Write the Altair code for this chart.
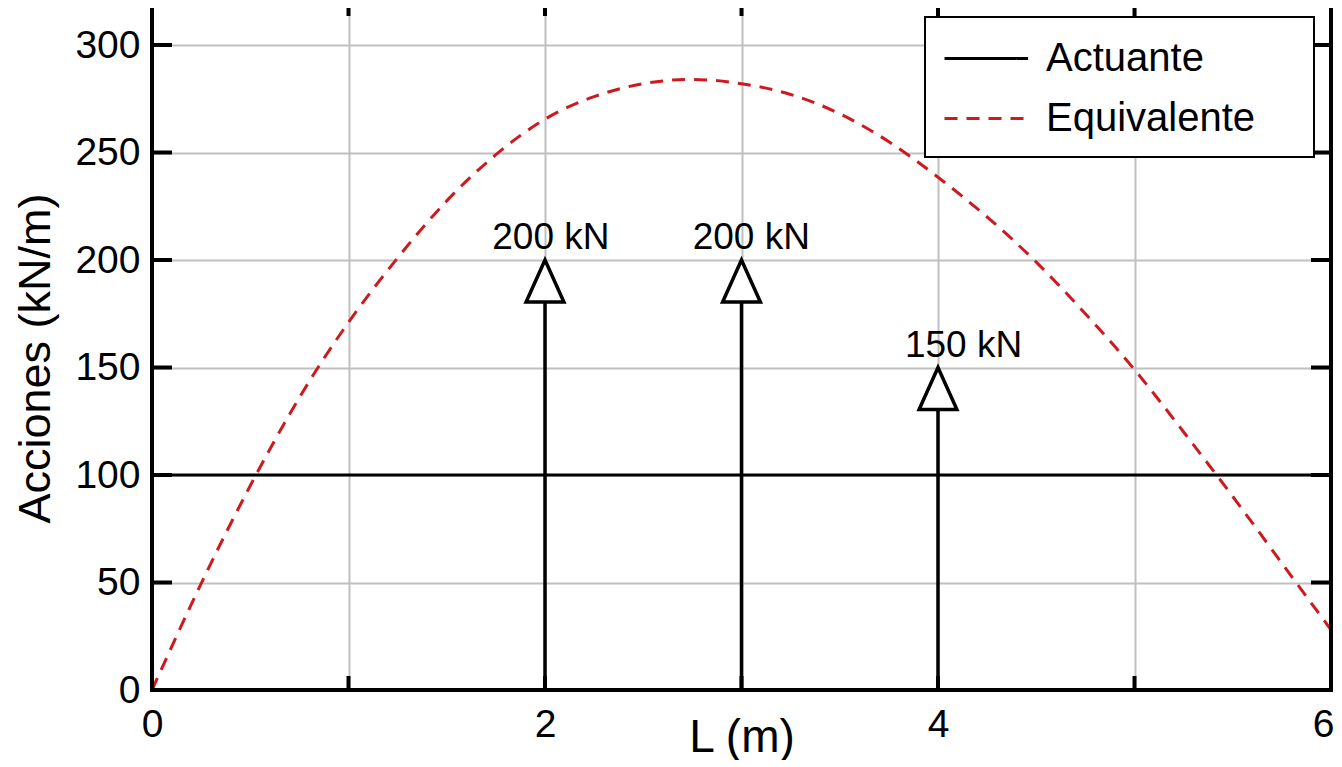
import altair as alt
import pandas as pd

# ---- data ----
x_equiv = [0, 0.25, 0.5, 0.75, 1.0, 1.25, 1.5, 1.75, 2.0, 2.25, 2.5, 2.75,
           3.0, 3.25, 3.5, 3.75, 4.0, 4.25, 4.5, 4.75, 5.0, 5.25, 5.5, 5.75, 6.0]
y_equiv = [0, 49.5, 95, 136, 171, 201, 227.5, 249, 265.5, 276, 282, 284,
           282, 277, 268, 255, 238.5, 220, 199, 175, 149, 120, 90, 59, 28]
x_act = [0, 6]
y_act = [100, 100]
load_x = [2, 3, 4]
load_val = [200, 200, 150]
load_label = ["200 kN", "200 kN", "150 kN"]
label_x = [2.03, 3.05, 4.13]
x_ticks = [0, 1, 2, 3, 4, 5, 6]
y_ticks = [0, 50, 100, 150, 200, 250, 300]
series = ["Actuante", "Equivalente"]

W, H = 1179, 688
FONT = "Liberation Sans"
RED = "#cc1a1f"
FILLER = "\u00a0\u2800"  # invisible, non-trimmed filler to widen the legend box

lines_df = pd.DataFrame({
    "L": x_act + x_equiv,
    "q": y_act + y_equiv,
    "serie": [series[0]] * len(x_act) + [series[1]] * len(x_equiv),
})
loads_df = pd.DataFrame({"L": load_x, "F": load_val, "txt": load_label, "LX": label_x})
xt_df = pd.DataFrame({"v": x_ticks})
yt_df = pd.DataFrame({"v": y_ticks})
one_df = pd.DataFrame({"a": [0]})

xscale = alt.Scale(domain=[0, 6], nice=False, zero=False)
yscale = alt.Scale(domain=[0, 320], nice=False)

last_x = "datum.value == 6"
xaxis = alt.Axis(values=x_ticks, format="d",
                 labelExpr="datum.value % 2 == 0 ? datum.label : ''",
                 labelAlign={"condition": {"test": last_x, "value": "right"}, "value": "center"},
                 labelOffset={"condition": {"test": last_x, "value": 3}, "value": 0},
                 ticks=False, domain=False, grid=True, gridColor="#c0c0c0", gridWidth=2,
                 labelFontSize=39, labelPadding=15, labelFlush=False, labelOverlap=False,
                 labelFont=FONT, labelColor="black",
                 title="L (m)", titleFontSize=46, titleFontWeight="normal", titleFont=FONT,
                 titleColor="black", titleY=61, titleBaseline="alphabetic")
yaxis = alt.Axis(values=y_ticks, format="d", ticks=False, domain=False, grid=True,
                 gridColor="#c0c0c0", gridWidth=2, labelFontSize=39, labelPadding=12,
                 labelFont=FONT, labelColor="black", labelOverlap=False,
                 title="Acciones (kN/m)", titleFontSize=45, titleFontWeight="normal",
                 titleFont=FONT, titleColor="black", titleX=-103, titleY=356,
                 titleBaseline="alphabetic")

leg = alt.Legend(title=None, orient="none", legendX=773, legendY=15,
                 symbolType="M-1,0L2.8,0", symbolSize=1936, symbolStrokeWidth=3,
                 labelFontSize=40, labelFont=FONT, labelColor="black", labelOffset=56,
                 labelLimit=600, padding=18, rowPadding=16, strokeColor="black",
                 fillColor="white", labelExpr="datum.label + '" + FILLER + "'")

lines = alt.Chart(lines_df).mark_line(strokeWidth=3, interpolate="natural", clip=True).encode(
    x=alt.X("L:Q", scale=xscale, axis=xaxis),
    y=alt.Y("q:Q", scale=yscale, axis=yaxis),
    color=alt.Color("serie:N", scale=alt.Scale(domain=series, range=["#000000", RED]), legend=leg),
    strokeDash=alt.StrokeDash("serie:N", scale=alt.Scale(domain=series, range=[[1, 0], [13, 9]]), legend=leg),
)

stems = alt.Chart(loads_df).mark_rule(strokeWidth=3.5, color="black").encode(
    x=alt.X("L:Q", scale=xscale), y=alt.Y("F:Q", scale=yscale), y2=alt.datum(0))

heads = alt.Chart(loads_df).mark_point(shape="M0,-1L-0.9,1L0.9,1Z", size=1764, filled=True,
                                         fill="white", stroke="black", strokeWidth=3.5,
                                         opacity=1, yOffset=21).encode(
    x=alt.X("L:Q", scale=xscale), y=alt.Y("F:Q", scale=yscale))

labels = alt.Chart(loads_df).mark_text(fontSize=37, font=FONT, color="black", align="center",
                                       baseline="alphabetic", dy=-11).encode(
    x=alt.X("LX:Q", scale=xscale), y=alt.Y("F:Q", scale=yscale), text="txt:N")

tk = dict(strokeWidth=4, color="black")
t_left = alt.Chart(yt_df).mark_rule(**tk).encode(y=alt.Y("v:Q", scale=yscale), x=alt.value(0), x2=alt.value(20))
t_right = alt.Chart(yt_df).mark_rule(**tk).encode(y=alt.Y("v:Q", scale=yscale), x=alt.value(W - 20), x2=alt.value(W))
t_bot = alt.Chart(xt_df).mark_rule(**tk).encode(x=alt.X("v:Q", scale=xscale), y=alt.value(H - 14), y2=alt.value(H))
t_top = alt.Chart(xt_df).mark_rule(**tk).encode(x=alt.X("v:Q", scale=xscale), y=alt.value(0), y2=alt.value(14))

frame = alt.Chart(one_df).mark_rect(filled=False, stroke="black", strokeWidth=4).encode(
    x=alt.value(0), x2=alt.value(W), y=alt.value(0), y2=alt.value(H))

chart = alt.layer(lines, stems, heads, labels, t_left, t_right, t_bot, t_top, frame).properties(
    width=W, height=H,
    autosize=alt.AutoSizeParams(type="none"),
    padding={"left": 144, "top": -6, "right": 3, "bottom": 70},
    background="white",
).configure_view(stroke=None).configure_legend(strokeWidth=2)

chart.save("out.html", embed_options={"renderer": "svg", "actions": False})
